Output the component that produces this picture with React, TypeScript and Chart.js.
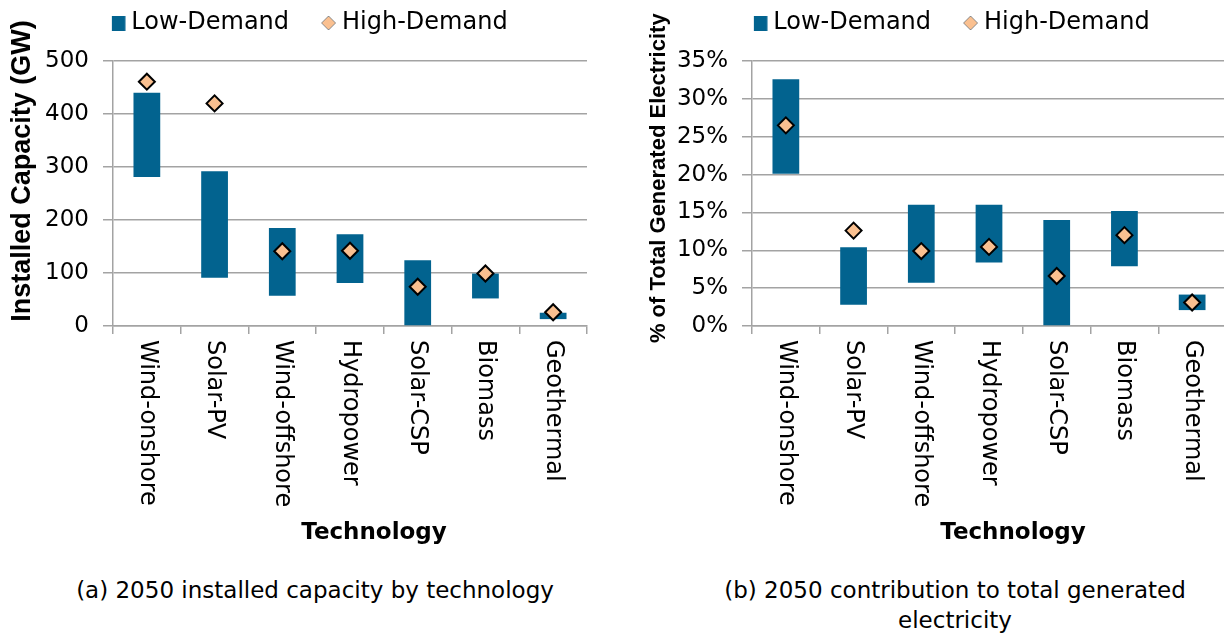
import React, { useEffect, useRef } from 'react';
import { Chart, registerables } from 'chart.js';

Chart.register(...registerables);

// ---------- data ----------
const categories = ['Wind-onshore', 'Solar-PV', 'Wind-offshore', 'Hydropower', 'Solar-CSP', 'Biomass', 'Geothermal'];
const seriesNames = ['Low-Demand', 'High-Demand'];

// (a) installed capacity, GW: Low-Demand range [min, max], High-Demand point
const capacityLowRange = [[281, 440], [91, 292], [57, 185], [81, 173], [0, 124], [52, 99], [13, 25]];
const capacityHigh = [461, 420, 141, 142, 74, 99, 26];
const capacityTicks = { min: 0, max: 500, step: 100 };

// (b) share of total generated electricity, %
const shareLowRange = [[20.1, 32.6], [2.8, 10.4], [5.7, 16.0], [8.4, 16.0], [0, 14.0], [7.9, 15.2], [2.1, 4.15]];
const shareHigh = [26.5, 12.6, 9.9, 10.45, 6.6, 12.0, 3.1];
const shareTicks = { min: 0, max: 35, step: 5 };

const yTitleA = 'Installed Capacity (GW)';
const yTitleB = '% of Total Generated Electricity';
const xTitle = 'Technology';
const captionA = '(a) 2050 installed capacity by technology';
const captionB1 = '(b) 2050 contribution to total generated';
const captionB2 = 'electricity';

// ---------- styles ----------
const BAR_COLOR = '#02638F';
const DIAMOND_FILL = '#FAC090';
const GRID = '#A3A3A3';
const SANS = "'DejaVu Sans'";
const ARIAL = "'Liberation Sans'";

const rotatedXLabels = {
  id: 'rotatedXLabels',
  afterDraw(chart: any) {
    const xs = chart.scales.x;
    const { ctx, chartArea } = chart;
    ctx.save();
    ctx.font = `24px ${SANS}`;
    ctx.fillStyle = '#000';
    ctx.textAlign = 'left';
    ctx.textBaseline = 'middle';
    (chart.data.labels as string[]).forEach((lab, i) => {
      const x = xs.getPixelForValue(i);
      ctx.save();
      ctx.translate(x, chartArea.bottom + 14);
      ctx.rotate(Math.PI / 2);
      ctx.fillText(lab, 0, 0);
      ctx.restore();
    });
    ctx.restore();
  },
};

// adds room under the legend and lifts the legend a little
const legendGap = (extra: number, dy: number) => ({
  id: 'legendGap',
  beforeLayout(chart: any) {
    const lg = chart.legend;
    if (lg && !lg._gapPatched) {
      const orig = lg.fit;
      lg.fit = function () {
        orig.call(this);
        this.height += extra;
      };
      lg._gapPatched = true;
    }
  },
  afterLayout(chart: any) {
    const lg = chart.legend;
    if (lg) {
      lg.top += dy;
      lg.bottom += dy;
    }
  },
});

function makeIcons() {
  const sq = document.createElement('canvas');
  sq.width = 28;
  sq.height = 15;
  const c1 = sq.getContext('2d')!;
  c1.fillStyle = BAR_COLOR;
  c1.fillRect(14, 0, 13.5, 15);

  const di = document.createElement('canvas');
  di.width = 28;
  di.height = 16;
  const c2 = di.getContext('2d')!;
  c2.beginPath();
  c2.moveTo(20, 1);
  c2.lineTo(27, 8);
  c2.lineTo(20, 15);
  c2.lineTo(13, 8);
  c2.closePath();
  c2.fillStyle = DIAMOND_FILL;
  c2.fill();
  c2.strokeStyle = '#8a8a8a';
  c2.lineWidth = 1;
  c2.stroke();
  return { sq, di };
}

function makeConfig(p: {
  low: number[][];
  high: number[];
  ticks: { min: number; max: number; step: number };
  suffix: string;
  yTitle: string;
  yTitleFont: any;
  yTitlePad: number;
  yWidth: number;
  rightWidth: number;
  height: number;
  plotBottom: number;
}) {
  const icons = makeIcons();
  return {
    type: 'bar' as const,
    data: {
      labels: categories,
      datasets: [
        {
          type: 'bar' as const,
          label: seriesNames[0],
          data: p.low,
          backgroundColor: BAR_COLOR,
          borderWidth: 0,
          borderSkipped: false,
          barPercentage: 0.395,
          categoryPercentage: 1,
          order: 2,
          yAxisID: 'y',
        },
        {
          type: 'line' as const,
          label: seriesNames[1],
          data: p.high,
          showLine: false,
          pointStyle: 'rectRot',
          pointRadius: 8,
          pointHoverRadius: 8,
          pointBackgroundColor: DIAMOND_FILL,
          pointBorderColor: '#000',
          pointBorderWidth: 2,
          order: 1,
          yAxisID: 'y',
        },
      ],
    },
    options: {
      animation: false,
      responsive: true,
      maintainAspectRatio: false,
      layout: { padding: 0 },
      plugins: {
        tooltip: { enabled: false },
        legend: {
          display: true,
          position: 'top',
          labels: {
            usePointStyle: true,
            boxWidth: 15,
            boxHeight: 24,
            padding: 26,
            color: '#000',
            font: { family: SANS, size: 24 },
            generateLabels: () => [
              { text: seriesNames[0], pointStyle: icons.sq, fillStyle: BAR_COLOR, strokeStyle: BAR_COLOR, lineWidth: 0, hidden: false, datasetIndex: 0, fontColor: '#000' },
              { text: seriesNames[1], pointStyle: icons.di, fillStyle: DIAMOND_FILL, strokeStyle: '#888', lineWidth: 1, hidden: false, datasetIndex: 1, fontColor: '#000' },
            ],
          },
          onClick: () => {},
        },
      },
      scales: {
        x: {
          type: 'category',
          offset: true,
          grid: {
            display: true,
            offset: true,
            drawOnChartArea: false,
            drawTicks: true,
            tickLength: 8,
            color: GRID,
            lineWidth: 1.5,
          },
          border: { display: true, color: GRID, width: 1.5 },
          ticks: { display: false },
          title: {
            display: true,
            text: '      ' + xTitle,
            color: '#000',
            font: { family: SANS, size: 23, weight: 'bold' },
            padding: { top: 0, bottom: 13 },
          },
          afterFit: (s: any) => {
            s.height = p.height - p.plotBottom;
          },
        },
        y: {
          type: 'linear',
          position: 'left',
          min: p.ticks.min,
          max: p.ticks.max,
          grid: { color: GRID, lineWidth: 1.5, drawTicks: true, tickLength: 10 },
          border: { display: true, color: GRID, width: 1.5 },
          ticks: {
            stepSize: p.ticks.step,
            padding: 14,
            color: '#000',
            font: { family: SANS, size: 23 },
            callback: (v: any) => `${v}${p.suffix}`,
          },
          title: {
            display: true,
            text: p.yTitle,
            color: '#000',
            font: p.yTitleFont,
            padding: { top: p.yTitlePad, bottom: 0 },
          },
          afterFit: (s: any) => {
            s.width = p.yWidth;
          },
        },
        yRight: {
          type: 'linear',
          position: 'right',
          display: true,
          grid: { display: false, drawTicks: false },
          border: { display: false },
          ticks: { display: false },
          afterFit: (s: any) => {
            s.width = p.rightWidth;
          },
        },
      },
    },
    plugins: [rotatedXLabels, legendGap(1, -15)],
  };
}

const CANVAS_H = 560;
const PLOT_BOTTOM = 326;

export default function App() {
  const leftRef = useRef<HTMLCanvasElement>(null);
  const rightRef = useRef<HTMLCanvasElement>(null);

  useEffect(() => {
    const a = new Chart(
      leftRef.current!,
      makeConfig({
        low: capacityLowRange,
        high: capacityHigh,
        ticks: capacityTicks,
        suffix: '',
        yTitle: '      ' + yTitleA,
        yTitleFont: { family: ARIAL, size: 27, weight: 'bold' },
        yTitlePad: 6,
        yWidth: 113,
        rightWidth: 25,
        height: CANVAS_H,
        plotBottom: PLOT_BOTTOM,
      }) as any
    );
    const b = new Chart(
      rightRef.current!,
      makeConfig({
        low: shareLowRange,
        high: shareHigh,
        ticks: shareTicks,
        suffix: '%',
        yTitle: '     ' + yTitleB,
        yTitleFont: { family: ARIAL, size: 22, weight: 'bold' },
        yTitlePad: 34,
        yWidth: 140,
        rightWidth: 58,
        height: CANVAS_H,
        plotBottom: PLOT_BOTTOM,
      }) as any
    );
    return () => {
      a.destroy();
      b.destroy();
    };
  }, []);

  const caption: React.CSSProperties = {
    position: 'absolute',
    top: 575,
    fontFamily: SANS,
    fontSize: 23,
    lineHeight: '30px',
    color: '#000',
    textAlign: 'center',
    whiteSpace: 'nowrap',
  };

  return (
    <div style={{ position: 'fixed', left: 0, top: 0, width: 1224, height: 634, overflow: 'hidden', background: '#fff' }}>
      <div style={{ position: 'absolute', left: 0, top: 0, width: 612, height: CANVAS_H }}>
        <canvas ref={leftRef} />
      </div>
      <div style={{ position: 'absolute', left: 612, top: 0, width: 672, height: CANVAS_H }}>
        <canvas ref={rightRef} />
      </div>
      <div style={{ ...caption, left: 0, width: 630 }}>{captionA}</div>
      <div style={{ ...caption, left: 655, width: 600 }}>
        {captionB1}
        <br />
        {captionB2}
      </div>
    </div>
  );
}
